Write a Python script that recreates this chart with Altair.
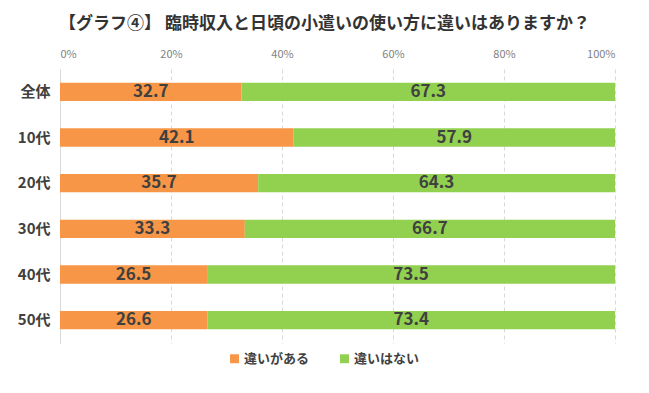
import altair as alt
import pandas as pd

categories = ["全体", "10代", "20代", "30代", "40代", "50代"]
series_names = ["違いがある", "違いはない"]
yes_values = [32.7, 42.1, 35.7, 33.3, 26.5, 26.6]
no_values = [67.3, 57.9, 64.3, 66.7, 73.5, 73.4]
colors = ["#F79646", "#92D050"]

rows = []
for c, a, b in zip(categories, yes_values, no_values):
    rows.append({"cat": c, "series": series_names[0], "value": a, "ord": 0})
    rows.append({"cat": c, "series": series_names[1], "value": b, "ord": 1})
df = pd.DataFrame(rows)

FONT = "Noto Sans CJK JP"

base = alt.Chart(df).transform_stack(
    stack="value", groupby=["cat"], as_=["v0", "v1"], sort=[alt.SortField("ord")]
).transform_calculate(mid="(datum.v0 + datum.v1) / 2")

y = alt.Y("cat:N", sort=categories, title=None,
          scale=alt.Scale(paddingInner=0.6, paddingOuter=0.3),
          axis=alt.Axis(labelFont=FONT, labelFontSize=15, labelFontWeight="bold",
                        labelColor="#404040", ticks=False, labelPadding=10,
                        domain=True, domainColor="#D9D9D9", grid=False))

bars = base.mark_bar().encode(
    x=alt.X("v0:Q", scale=alt.Scale(domain=[0, 100]), title=None,
            axis=alt.Axis(orient="top", values=[0, 20, 40, 60, 80, 100],
                          labelExpr="datum.value + '%'", labelFont=FONT,
                          labelFontSize=11, labelColor="#7F7F7F", ticks=False,
                          domain=False, labelPadding=10, grid=True,
                          gridColor="#D9D9D9", gridDash=[4, 3])),
    x2="v1:Q",
    y=y,
    color=alt.Color("series:N", sort=series_names,
                    scale=alt.Scale(domain=series_names, range=colors),
                    legend=alt.Legend(title=None, orient="none", direction="horizontal",
                                      legendX=168, legendY=283, symbolType="square",
                                      symbolSize=80, symbolStrokeWidth=0,
                                      labelFont=FONT, labelFontSize=13,
                                      labelFontWeight="bold", labelColor="#404040",
                                      columnPadding=28, labelOffset=3)),
    order=alt.Order("ord:Q"),
)

text = base.mark_text(font=FONT, fontSize=17, fontWeight="bold", color="#404040").encode(
    x=alt.X("mid:Q"),
    y=alt.Y("cat:N", sort=categories),
    text=alt.Text("value:Q", format=".1f"),
)

chart = alt.layer(bars, text).properties(
    width=555, height=274,
    title=alt.Title("【グラフ④】 臨時収入と日頃の小遣いの使い方に違いはありますか？",
                    font=FONT, fontSize=17, fontWeight="bold", color="#333333",
                    dx=-13, offset=15),
    autosize=alt.AutoSizeParams(type="none"),
    padding={"left": 52, "top": 61, "right": 20, "bottom": 45},
).configure_view(stroke=None)

chart.save("out.html", embed_options={"renderer": "svg", "actions": False})
